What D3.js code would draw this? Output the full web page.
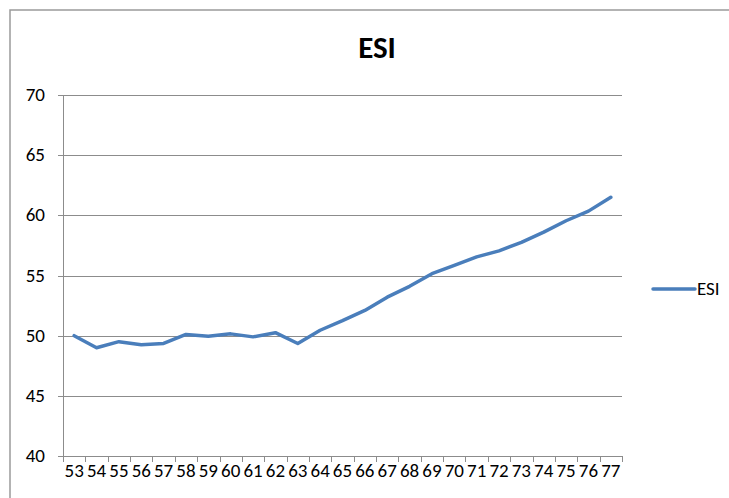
<!DOCTYPE html>
<html lang="en">
<head>
  <meta charset="UTF-8" />
  <title>ESI</title>
  <style>
    body { margin: 0; background: #fff; }
    text { font-family: Carlito, Calibri, "Liberation Sans", sans-serif; fill: #000; }
  </style>
</head>
<body>
  <div class="chart"></div>
  <script src="https://cdn.jsdelivr.net/npm/d3@7"></script>
  <script>
    // data
    var years = ["53", "54", "55", "56", "57", "58", "59", "60", "61", "62", "63", "64", "65",
      "66", "67", "68", "69", "70", "71", "72", "73", "74", "75", "76", "77"];
    var esi = [50.0, 49.0, 49.5, 49.25, 49.35, 50.1, 49.95, 50.15, 49.9, 50.25, 49.35, 50.45, 51.25,
      52.1, 53.2, 54.1, 55.15, 55.85, 56.55, 57.05, 57.75, 58.6, 59.55, 60.35, 61.5];
    var yTicks = [40, 45, 50, 55, 60, 65, 70];

    var w = 729, h = 498;
    var svg = d3.select(".chart").append("svg")
      .attr("width", w)
      .attr("height", h);

    // outer chart border (runs off the right and bottom)
    svg.append("rect")
      .attr("x", 10)
      .attr("y", 10)
      .attr("width", 740)
      .attr("height", 520)
      .attr("fill", "none")
      .attr("stroke", "#9a9a9a")
      .attr("stroke-width", 1.5);

    var plotL = 63, plotR = 622, plotT = 95, plotB = 456;

    var x = d3.scaleBand().domain(years).range([plotL, plotR]);
    var y = d3.scaleLinear().domain([40, 70]).range([plotB, plotT]);

    // gridlines
    svg.selectAll("line.grid")
      .data(yTicks)
      .enter()
      .append("line")
      .attr("class", "grid")
      .attr("x1", plotL - 5)
      .attr("x2", plotR)
      .attr("y1", function(d) { return Math.round(y(d)) + 0.5; })
      .attr("y2", function(d) { return Math.round(y(d)) + 0.5; })
      .attr("stroke", "#8c8c8c")
      .attr("stroke-width", 1);

    // y axis line
    svg.append("line")
      .attr("x1", plotL + 0.5).attr("x2", plotL + 0.5)
      .attr("y1", plotT).attr("y2", plotB + 0.5)
      .attr("stroke", "#8c8c8c");

    svg.selectAll("text.ylab")
      .data(yTicks)
      .enter()
      .append("text")
      .attr("class", "ylab")
      .attr("x", 45)
      .attr("y", function(d) { return y(d) + 6; })
      .attr("text-anchor", "end")
      .style("font-size", "19px")
      .text(function(d) { return d; });

    // x tick marks at band edges
    var edges = years.map(function(d) { return x(d); }).concat([plotR]);
    svg.selectAll("line.xtick")
      .data(edges)
      .enter()
      .append("line")
      .attr("class", "xtick")
      .attr("x1", function(d) { return Math.round(d) + 0.5; })
      .attr("x2", function(d) { return Math.round(d) + 0.5; })
      .attr("y1", plotB)
      .attr("y2", plotB + 6)
      .attr("stroke", "#8c8c8c");

    svg.selectAll("text.xlab")
      .data(years)
      .enter()
      .append("text")
      .attr("class", "xlab")
      .attr("x", function(d) { return x(d) + x.bandwidth() / 2; })
      .attr("y", 477)
      .attr("text-anchor", "middle")
      .style("font-size", "19px")
      .text(function(d) { return d; });

    // the series
    var line = d3.line()
      .x(function(d, i) { return x(years[i]) + x.bandwidth() / 2; })
      .y(function(d) { return y(d); });

    svg.append("path")
      .datum(esi)
      .attr("d", line)
      .attr("fill", "none")
      .attr("stroke", "#4a7ebb")
      .attr("stroke-width", 3.5)
      .attr("stroke-linejoin", "round")
      .attr("stroke-linecap", "round");

    // title
    svg.append("text")
      .attr("x", 377)
      .attr("y", 58)
      .attr("text-anchor", "middle")
      .style("font-size", "31px")
      .style("font-weight", "bold")
      .text("ESI");

    // legend
    svg.append("line")
      .attr("x1", 653).attr("x2", 695)
      .attr("y1", 289).attr("y2", 289)
      .attr("stroke", "#4a7ebb")
      .attr("stroke-width", 3.5)
      .attr("stroke-linecap", "round");
    svg.append("text")
      .attr("x", 697)
      .attr("y", 295)
      .style("font-size", "19px")
      .text("ESI");
  </script>
</body>
</html>
